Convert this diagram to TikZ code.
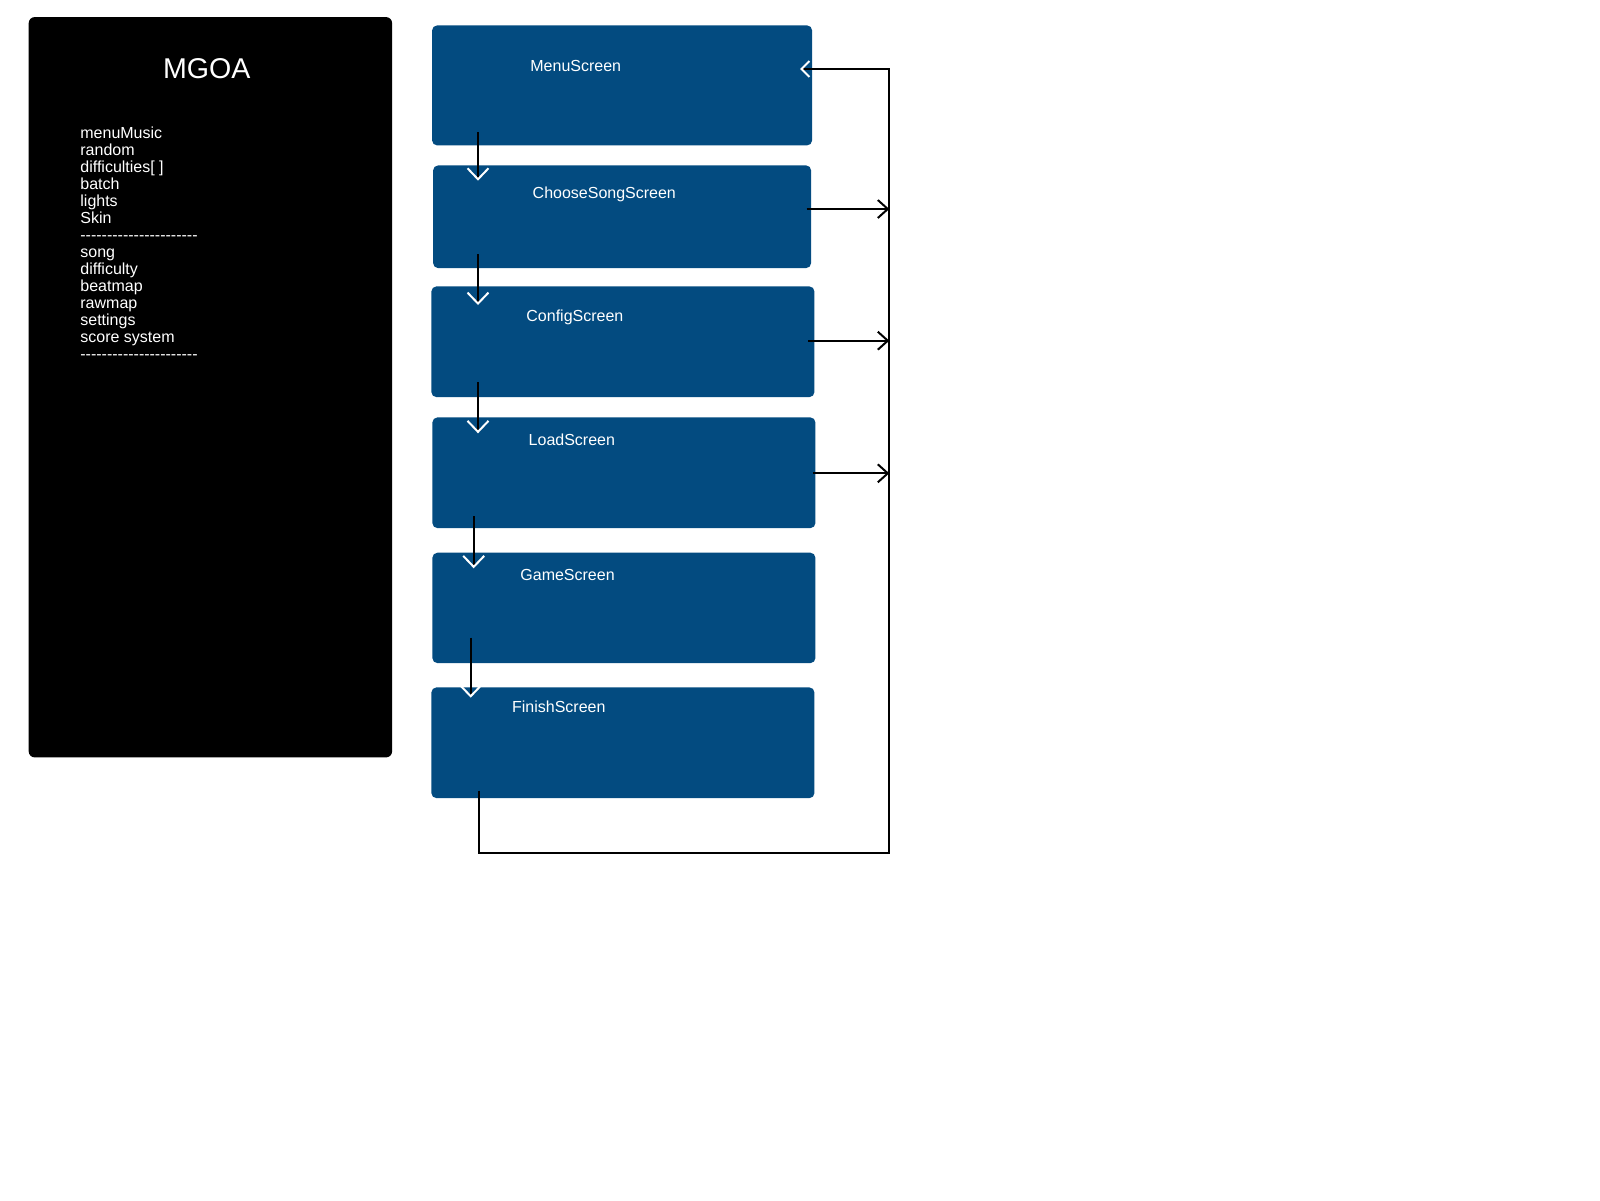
\documentclass[tikz,border=0pt]{standalone}
\usepackage{fontspec}
\setmainfont{Liberation Sans}
\usetikzlibrary{arrows.meta}
\definecolor{boxblue}{RGB}{3,75,128}
\newcommand\hy{\mbox{-}}
\newcommand\dashrow{\hy\hy\hy\hy\hy\hy\hy\hy\hy\hy\hy\hy\hy\hy\hy\hy\hy\hy\hy\hy\hy\hy}
\tikzset{
  screenbox/.style={draw=none, fill=boxblue, rounded corners=2.5pt, anchor=north west, inner sep=0pt},
  screenlabel/.style={text=white, anchor=base west, inner sep=0pt, font=\fontsize{8}{9.6}\selectfont},
  conn/.style={draw=black, line width=1pt},
  whitetip/.style={conn, -{Straight Barb[color=white, length=5.5pt, width=10.5pt]}},
  blacktip/.style={conn, -{Straight Barb[length=5pt, width=9pt]}},
}
\begin{document}
\begin{tikzpicture}[x=0.5pt, y=-0.5pt]
\useasboundingbox (0,0) rectangle (1600,1200);
% left panel
\node[fill=black, rounded corners=3pt, anchor=north west, inner sep=0pt,
      minimum width=181.7pt, minimum height=370.15pt] (panel) at (28.3,16.7) {};
\node[text=white, anchor=base, inner sep=0pt, font=\fontsize{14.3}{17}\selectfont] (title) at (206.7,78.3) {MGOA};
\node[text=white, anchor=north west, inner sep=0pt, align=left, font=\fontsize{8}{8.5}\selectfont] (list) at (80,126.7)
  {menuMusic\\random\\difficulties[ ]\\batch\\lights\\Skin\\\dashrow\\song\\difficulty\\beatmap\\rawmap\\settings\\score system\\\dashrow};
% screens
\node[screenbox, minimum width=190pt, minimum height=60pt] (menu) at (431.7,25) {};
\node[screenbox, minimum width=189pt, minimum height=51.35pt] (choose) at (432.7,165) {};
\node[screenbox, minimum width=191.5pt, minimum height=55.35pt] (config) at (431,286) {};
\node[screenbox, minimum width=191.5pt, minimum height=55.35pt] (load) at (432,417) {};
\node[screenbox, minimum width=191.5pt, minimum height=55.2pt] (game) at (432,552.3) {};
\node[screenbox, minimum width=191.5pt, minimum height=55.35pt] (finish) at (431,687) {};
\node[screenlabel] (menuL) at (530,71.7) {MenuScreen};
\node[screenlabel] (chooseL) at (532.3,198.3) {ChooseSongScreen};
\node[screenlabel] (configL) at (526,321.7) {ConfigScreen};
\node[screenlabel] (loadL) at (528.3,445) {LoadScreen};
\node[screenlabel] (gameL) at (520,580) {GameScreen};
\node[screenlabel] (finishL) at (511.7,712.7) {FinishScreen};
% connector end points
\coordinate (m1) at (478,132.3);   \coordinate (c0) at (478,180.7);
\coordinate (c1) at (478,254.3);   \coordinate (g0a) at (478,305);
\coordinate (cf1) at (478,382.3);  \coordinate (l0) at (478,433.3);
\coordinate (l1) at (473.7,516);   \coordinate (gm0) at (473.7,568.3);
\coordinate (gm1) at (470.7,637.7);\coordinate (f0) at (470.7,697.7);
\coordinate (f1) at (479,790.7);
\coordinate (cr) at (806.7,209);   \coordinate (crt) at (889.3,209);
\coordinate (cfr) at (808.3,340.7);\coordinate (cfrt) at (889.3,340.7);
\coordinate (lr) at (813.3,473.3); \coordinate (lrt) at (889.3,473.3);
\coordinate (mr) at (800,69);
\coordinate (rb) at (889.3,852.7);
% vertical flow
\draw[whitetip] (m1) -- (c0);
\draw[whitetip] (c1) -- (g0a);
\draw[whitetip] (cf1) -- (l0);
\draw[whitetip] (l1) -- (gm0);
\draw[whitetip] (gm1) -- (f0);
% right side arrows
\draw[blacktip] (cr) -- (crt);
\draw[blacktip] (cfr) -- (cfrt);
\draw[blacktip] (lr) -- (lrt);
% return path
\draw[conn, -{Straight Barb[color=white, length=4pt, width=8pt]}] (f1) |- (rb) |- (mr);
\end{tikzpicture}
\end{document}
